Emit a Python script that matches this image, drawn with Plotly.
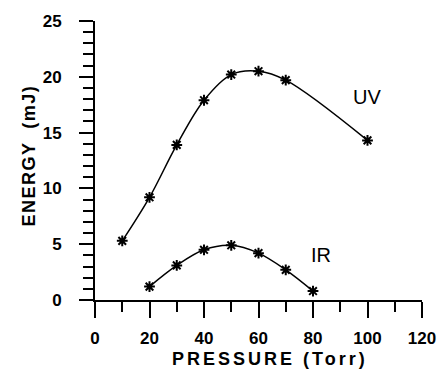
import plotly.graph_objects as go

uv_pressure = [10, 20, 30, 40, 50, 60, 70, 100]
uv_energy = [5.3, 9.2, 13.9, 17.9, 20.2, 20.5, 19.7, 14.3]
ir_pressure = [20, 30, 40, 50, 60, 70, 80]
ir_energy = [1.2, 3.1, 4.5, 4.9, 4.2, 2.7, 0.8]

x_range = [0, 120]
y_range = [0, 25]

FONT = "Liberation Sans, Arial, sans-serif"

fig = go.Figure()
for xs, ys in [(uv_pressure, uv_energy), (ir_pressure, ir_energy)]:
    fig.add_trace(go.Scatter(
        x=xs, y=ys, mode="lines+markers",
        line=dict(color="black", width=1.5, shape="spline", smoothing=1.0),
        marker=dict(symbol="asterisk-open", size=9, color="black",
                    line=dict(color="black", width=2)),
        showlegend=False, cliponaxis=False,
    ))

fig.add_annotation(x=99.7, y=18.2, text="UV", showarrow=False,
                   font=dict(family=FONT, size=20, color="black"))
fig.add_annotation(x=82.9, y=4.06, text="IR", showarrow=False,
                   font=dict(family=FONT, size=20, color="black"))

fig.add_annotation(xref="paper", yref="paper", x=(273 - 95) / 332, y=-(359 - 300) / 280,
                   text='<span style="letter-spacing:3px">PRESSURE (Torr)</span>',
                   showarrow=False, xanchor="center", yanchor="middle",
                   font=dict(family=FONT, size=18, color="black", weight="bold"))
fig.add_annotation(xref="paper", yref="paper", x=-(95 - 27) / 332, y=(300 - 155) / 280,
                   text='<span style="letter-spacing:1.5px">ENERGY  (mJ)</span>',
                   showarrow=False, textangle=-90, xanchor="center", yanchor="middle",
                   font=dict(family=FONT, size=18, color="black", weight="bold"))

axis_common = dict(showgrid=False, zeroline=False, showline=True, linecolor="black",
                   linewidth=2, ticks="outside", tickwidth=2, tickcolor="black",
                   tickfont=dict(family=FONT, size=17, color="black", weight="bold"),
                   tickmode="linear", tick0=0)

fig.update_layout(
    width=448, height=376,
    margin=dict(l=95, r=21, t=20, b=76),
    paper_bgcolor="white", plot_bgcolor="white",
    font=dict(family=FONT, size=17, color="black"),
    xaxis=dict(range=x_range, dtick=20, ticklen=16, ticklabelstandoff=6,
               minor=dict(dtick=10, tick0=0, ticks="outside", ticklen=10, tickwidth=2,
                          tickcolor="black", showgrid=False),
               **axis_common),
    yaxis=dict(range=y_range, dtick=5, ticklen=14, ticklabelstandoff=14,
               minor=dict(dtick=1, tick0=0, ticks="outside", ticklen=10, tickwidth=2,
                          tickcolor="black", showgrid=False),
               **axis_common),
)

fig.write_html("out.html")
